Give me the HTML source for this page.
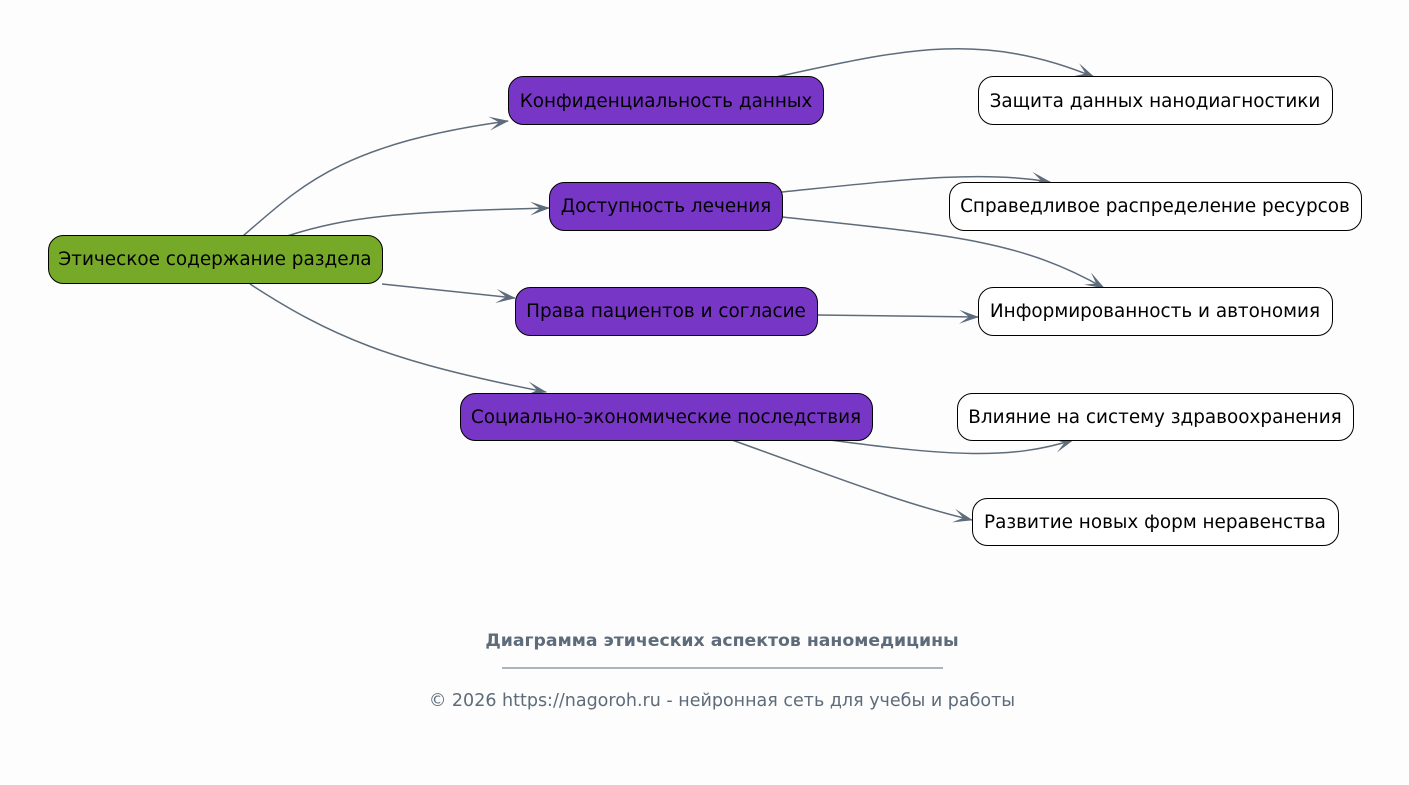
<!DOCTYPE html>
<html><head><meta charset="utf-8"><style>
html,body{margin:0;padding:0;background:#fdfdfd;}
svg{display:block;}
text{font-family:"DejaVu Sans","Liberation Sans",sans-serif;}
</style></head><body>
<svg width="1409" height="785" viewBox="0 0 1409 785" xmlns="http://www.w3.org/2000/svg">
<defs>
<marker id="a" viewBox="0 0 20 14" refX="19" refY="7" markerWidth="20" markerHeight="14" markerUnits="userSpaceOnUse" orient="auto">
<path d="M0,0 L20,7 L0,14 L10,7 Z" fill="#5d6b7a"/>
</marker>
</defs>
<rect width="1409" height="785" fill="#fdfdfd"/>
<g fill="none" stroke="#5d6b7a" stroke-width="1.5" marker-end="url(#a)">
<path d="M243,236 C300,187 340,144 508,121"/>
<path d="M287,236 C350,216 400,212 549,208"/>
<path d="M382,284 L515,298"/>
<path d="M250,284 C330,336 390,362 546,392"/>
<path d="M776,77 C900,50 980,30 1094,77"/>
<path d="M782,192 C900,180 980,170 1050,182"/>
<path d="M782,217 C950,235 1020,240 1104,288"/>
<path d="M817,315 L978,317"/>
<path d="M830,440 C950,456 1010,460 1073,440"/>
<path d="M732,440 C830,475 900,503 972,520"/>
</g>
<g stroke="#000" stroke-width="1">
<rect x="48.5" y="235.5" width="334" height="48" rx="15" fill="#76a928"/>
<rect x="508.5" y="76.5" width="315" height="48" rx="15" fill="#7836c6"/>
<rect x="549.5" y="182.5" width="233" height="48" rx="15" fill="#7836c6"/>
<rect x="515.5" y="287.5" width="302" height="48" rx="15" fill="#7836c6"/>
<rect x="460.5" y="393.5" width="412" height="47" rx="15" fill="#7836c6"/>
<rect x="978.5" y="76.5" width="354" height="48" rx="15" fill="#fff"/>
<rect x="949.5" y="182.5" width="412" height="48" rx="15" fill="#fff"/>
<rect x="978.5" y="287.5" width="354" height="48" rx="15" fill="#fff"/>
<rect x="957.5" y="393.5" width="396" height="47" rx="15" fill="#fff"/>
<rect x="972.5" y="498.5" width="366" height="47" rx="15" fill="#fff"/>
</g>
<g font-size="18.4" fill="#000" text-anchor="middle">
<text x="215" y="265">Этическое содержание раздела</text>
<text x="666" y="107">Конфиденциальность данных</text>
<text x="666" y="212">Доступность лечения</text>
<text x="666" y="317">Права пациентов и согласие</text>
<text x="666" y="423">Социально-экономические последствия</text>
<text x="1155" y="107">Защита данных нанодиагностики</text>
<text x="1155" y="212">Справедливое распределение ресурсов</text>
<text x="1155" y="317">Информированность и автономия</text>
<text x="1155" y="423">Влияние на систему здравоохранения</text>
<text x="1155" y="528">Развитие новых форм неравенства</text>
</g>
<g fill="#5d6b7a" text-anchor="middle">
<text x="722" y="646" font-size="17.3" font-weight="bold">Диаграмма этических аспектов наномедицины</text>
<line x1="502" y1="668" x2="943" y2="668" stroke="#5d6b7a" stroke-width="1"/>
<text x="722" y="706" font-size="17.5">© 2026 https://nagoroh.ru - нейронная сеть для учебы и работы</text>
</g>
</svg>
</body></html>
